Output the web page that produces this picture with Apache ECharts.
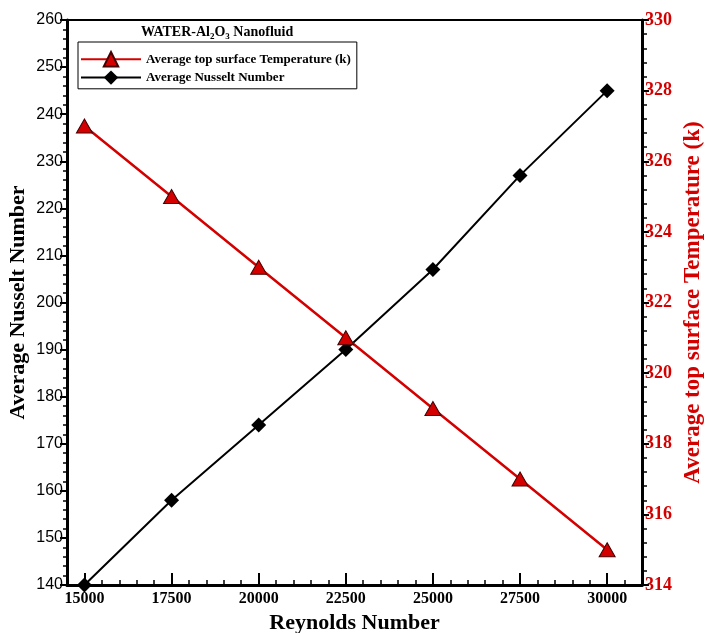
<!DOCTYPE html>
<html>
<head>
<meta charset="utf-8">
<script src="https://cdn.jsdelivr.net/npm/echarts@6/dist/echarts.min.js"></script>
<style>
	html, body { margin: 0; padding: 0; background: #fff; }
	#chart { width: 705px; height: 633px; }
</style>
</head>
<body>
<div id="chart"></div>
<script>
// data
var reynolds = [15000, 17500, 20000, 22500, 25000, 27500, 30000];
var nusselt = [140, 158, 174, 190, 207, 227, 245];
var temperature = [327, 325, 323, 321, 319, 317, 315];
var majorTicks = [15000, 17500, 20000, 22500, 25000, 27500, 30000];

var serif = 'Liberation Serif';
var red = '#d40000';

var nuData = [];
var tData = [];
for (var i = 0; i < reynolds.length; i++) {
	nuData.push([reynolds[i], nusselt[i]]);
	tData.push([reynolds[i], temperature[i]]);
}

var myChart = echarts.init(document.getElementById('chart'));
var option = {
	animation: false,
	title: {
		text: '{a|WATER-Al}{s|2}{a|O}{s|3}{a| Nanofluid}',
		left: 136,
		top: 18,
		textStyle: {
			rich: {
				a: { fontFamily: serif, fontWeight: 'bold', fontSize: 14, color: '#000', lineHeight: 18 },
				s: { fontFamily: serif, fontWeight: 'bold', fontSize: 9, color: '#000', verticalAlign: 'bottom', lineHeight: 12, padding: [6, 0, 0, 0] }
			}
		}
	},
	legend: {
		left: 78,
		top: 42,
		orient: 'vertical',
		data: ['Average top surface Temperature (k)', 'Average Nusselt Number'],
		itemWidth: 60,
		itemHeight: 18,
		itemGap: 3,
		padding: [9, 6, 4, 2],
		borderColor: '#000',
		borderWidth: 1,
		textStyle: { fontFamily: serif, fontWeight: 'bold', fontSize: 13, color: '#000' }
	},
	grid: {
		left: 67,
		right: 63,
		top: 20,
		bottom: 48,
		outerBoundsMode: 'none',
		show: true,
		borderColor: '#000',
		borderWidth: 2
	},
	xAxis: [
		{
			type: 'value',
			min: 14500,
			max: 31000,
			interval: 500,
			name: 'Reynolds Number',
			nameLocation: 'middle',
			nameGap: 26,
			nameTextStyle: { fontFamily: serif, fontWeight: 'bold', fontSize: 22, color: '#000' },
			axisLine: { lineStyle: { color: '#000', width: 3 } },
			axisTick: { inside: true, length: 5, lineStyle: { color: '#000', width: 1.5 } },
			axisLabel: {
				margin: 6,
				fontFamily: serif,
				fontWeight: 'bold',
				fontSize: 16,
				color: '#000',
				formatter: function (v) { return v % 2500 === 0 ? String(v) : ''; }
			},
			splitLine: { show: false }
		},
		{
			type: 'value',
			min: 14500,
			max: 31000,
			position: 'bottom',
			axisLine: { show: false },
			axisTick: { inside: true, length: 12, customValues: majorTicks, lineStyle: { color: '#000', width: 2 } },
			axisLabel: { show: false },
			splitLine: { show: false }
		}
	],
	yAxis: [
		{
			type: 'value',
			min: 140,
			max: 260,
			interval: 10,
			name: 'Average Nusselt Number',
			nameLocation: 'middle',
			nameRotate: 90,
			nameGap: 38,
			nameMoveOverlap: false,
			nameTextStyle: { fontFamily: serif, fontWeight: 'bold', fontSize: 22, color: '#000' },
			axisLine: { show: true, lineStyle: { color: '#000', width: 3 } },
			axisTick: { show: true, length: 7, lineStyle: { color: '#000', width: 2 } },
			minorTick: { show: true, splitNumber: 5, length: 4, lineStyle: { color: '#000', width: 1.5 } },
			axisLabel: { margin: 4, fontFamily: 'Liberation Sans', fontSize: 16, color: '#000' },
			splitLine: { show: false }
		},
		{
			type: 'value',
			min: 314,
			max: 330,
			interval: 2,
			position: 'right',
			name: 'Average top surface Temperature (k)',
			nameLocation: 'middle',
			nameRotate: 90,
			nameGap: 40,
			nameMoveOverlap: false,
			nameTextStyle: { fontFamily: serif, fontWeight: 'bold', fontSize: 23, color: red },
			axisLine: { show: true, lineStyle: { color: '#000', width: 3 } },
			axisTick: { show: true, length: 7, lineStyle: { color: '#000', width: 2 } },
			minorTick: { show: true, splitNumber: 5, length: 5, lineStyle: { color: '#000', width: 1.5 } },
			axisLabel: { margin: 3, fontFamily: serif, fontWeight: 'bold', fontSize: 18, color: red },
			splitLine: { show: false }
		}
	],
	series: [
		{
			name: 'Average Nusselt Number',
			type: 'line',
			xAxisIndex: 0,
			yAxisIndex: 0,
			data: nuData,
			clip: false,
			symbol: 'diamond',
			symbolSize: 15,
			lineStyle: { color: '#000', width: 2 },
			itemStyle: { color: '#000' }
		},
		{
			name: 'Average top surface Temperature (k)',
			type: 'line',
			xAxisIndex: 0,
			yAxisIndex: 1,
			data: tData,
			clip: false,
			symbol: 'triangle',
			symbolSize: [16, 14],
			lineStyle: { color: red, width: 2.5 },
			itemStyle: { color: red, borderColor: '#400', borderWidth: 1 }
		}
	]
};
myChart.setOption(option);
</script>
</body>
</html>
